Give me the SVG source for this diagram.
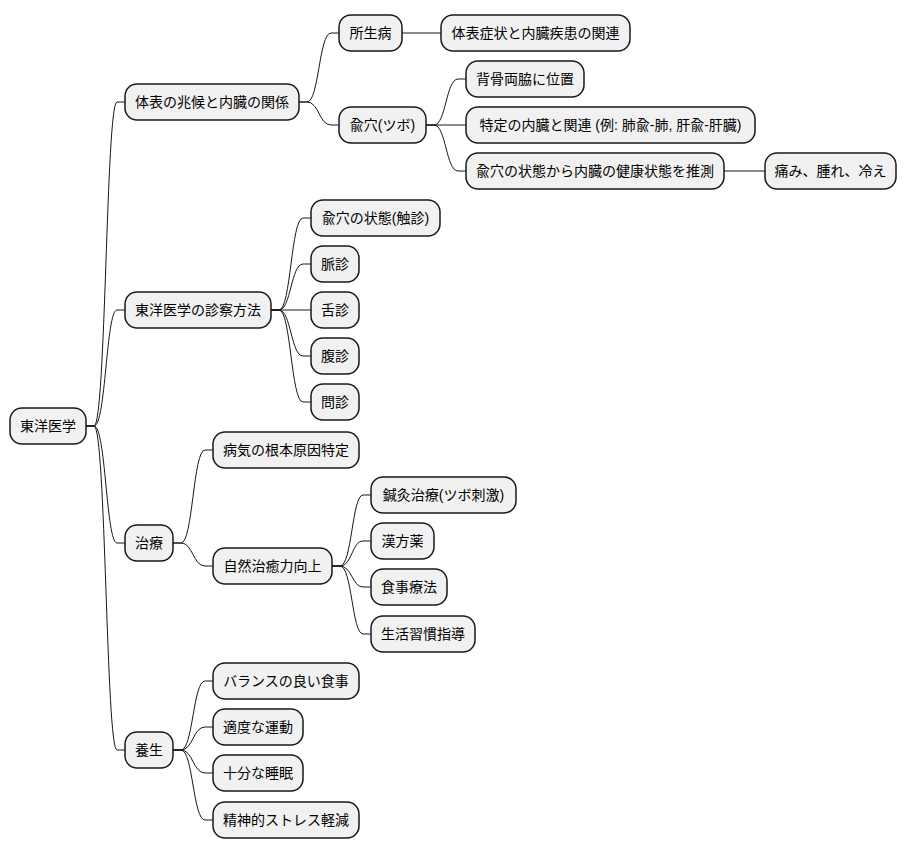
<svg xmlns="http://www.w3.org/2000/svg" width="907" height="854" viewBox="0 0 907 854">
<style>
.n rect{fill:#F1F1F1;stroke:#181818;stroke-width:1.5}
.n text{font-family:"Liberation Sans","Noto Sans CJK JP",sans-serif;font-size:14px;fill:#000;text-anchor:middle}
.c path{fill:none;stroke:#181818;stroke-width:1}
</style>
<rect width="907" height="854" fill="#FFFFFF"/>
<g class="c" id="connectors">
<path d="M86,426 H94 C106,426 106,102 117,102 H125"/>
<path d="M86,426 H94 C106,426 106,310 117,310 H125"/>
<path d="M86,426 H94 C106,426 106,543 117,543 H125"/>
<path d="M86,426 H94 C106,426 106,750 117,750 H125"/>
<path d="M299,102 H307 C319,102 319,33 331,33 H339"/>
<path d="M299,102 H307 C319,102 319,125 331,125 H339"/>
<path d="M402,33 H441"/>
<path d="M426,125 H434 C446,125 446,79 458,79 H466"/>
<path d="M426,125 H466"/>
<path d="M426,125 H434 C446,125 446,171 458,171 H466"/>
<path d="M724,171 H765"/>
<path d="M271,310 H279 C291,310 291,218 303,218 H311"/>
<path d="M271,310 H279 C291,310 291,264 303,264 H311"/>
<path d="M271,310 H311"/>
<path d="M271,310 H279 C291,310 291,356 303,356 H311"/>
<path d="M271,310 H279 C291,310 291,402 303,402 H311"/>
<path d="M173,543 H181 C193,543 193,450 205,450 H213"/>
<path d="M173,543 H181 C193,543 193,566 205,566 H213"/>
<path d="M332,566 H340 C352,566 352,495 363,495 H371"/>
<path d="M332,566 H340 C352,566 352,541 363,541 H371"/>
<path d="M332,566 H340 C352,566 352,587 363,587 H371"/>
<path d="M332,566 H340 C352,566 352,634 363,634 H371"/>
<path d="M173,750 H181 C193,750 193,681 205,681 H213"/>
<path d="M173,750 H181 C193,750 193,727 205,727 H213"/>
<path d="M173,750 H181 C193,750 193,773 205,773 H213"/>
<path d="M173,750 H181 C193,750 193,820 205,820 H213"/>
</g>
<g class="n" id="root"><rect x="10" y="408" width="76" height="36" rx="12"/><text x="48" y="431">東洋医学</text></g>
<g class="n" id="n1"><rect x="125" y="84" width="174" height="36" rx="12"/><text x="212" y="107">体表の兆候と内臓の関係</text></g>
<g class="n" id="n1a"><rect x="339" y="15" width="63" height="36" rx="12"/><text x="370.5" y="38">所生病</text></g>
<g class="n" id="n1a1"><rect x="441" y="15" width="189" height="36" rx="12"/><text x="535.5" y="38">体表症状と内臓疾患の関連</text></g>
<g class="n" id="n1b"><rect x="339" y="107" width="87" height="36" rx="12"/><text x="382.5" y="130">兪穴(ツボ)</text></g>
<g class="n" id="n1b1"><rect x="466" y="61" width="118" height="36" rx="12"/><text x="525" y="84">背骨両脇に位置</text></g>
<g class="n" id="n1b2"><rect x="466" y="107" width="289" height="36" rx="12"/><text x="610.5" y="130">特定の内臓と関連 (例: 肺兪-肺, 肝兪-肝臓)</text></g>
<g class="n" id="n1b3"><rect x="466" y="153" width="258" height="36" rx="12"/><text x="595" y="176">兪穴の状態から内臓の健康状態を推測</text></g>
<g class="n" id="n1b3a"><rect x="765" y="153" width="131" height="36" rx="12"/><text x="830.5" y="176">痛み、腫れ、冷え</text></g>
<g class="n" id="n2"><rect x="125" y="292" width="146" height="36" rx="12"/><text x="198" y="315">東洋医学の診察方法</text></g>
<g class="n" id="n2a"><rect x="311" y="200" width="129" height="36" rx="12"/><text x="375.5" y="223">兪穴の状態(触診)</text></g>
<g class="n" id="n2b"><rect x="311" y="246" width="48" height="36" rx="12"/><text x="335" y="269">脈診</text></g>
<g class="n" id="n2c"><rect x="311" y="292" width="48" height="36" rx="12"/><text x="335" y="315">舌診</text></g>
<g class="n" id="n2d"><rect x="311" y="338" width="48" height="36" rx="12"/><text x="335" y="361">腹診</text></g>
<g class="n" id="n2e"><rect x="311" y="384" width="48" height="36" rx="12"/><text x="335" y="407">問診</text></g>
<g class="n" id="n3"><rect x="125" y="525" width="48" height="36" rx="12"/><text x="149" y="548">治療</text></g>
<g class="n" id="n3a"><rect x="213" y="432" width="146" height="36" rx="12"/><text x="286" y="455">病気の根本原因特定</text></g>
<g class="n" id="n3b"><rect x="213" y="548" width="119" height="36" rx="12"/><text x="272.5" y="571">自然治癒力向上</text></g>
<g class="n" id="n3b1"><rect x="371" y="477" width="145" height="36" rx="12"/><text x="443.5" y="500">鍼灸治療(ツボ刺激)</text></g>
<g class="n" id="n3b2"><rect x="371" y="523" width="63" height="36" rx="12"/><text x="402.5" y="546">漢方薬</text></g>
<g class="n" id="n3b3"><rect x="371" y="569" width="76" height="36" rx="12"/><text x="409" y="592">食事療法</text></g>
<g class="n" id="n3b4"><rect x="371" y="616" width="104" height="36" rx="12"/><text x="423" y="639">生活習慣指導</text></g>
<g class="n" id="n4"><rect x="125" y="732" width="48" height="36" rx="12"/><text x="149" y="755">養生</text></g>
<g class="n" id="n4a"><rect x="213" y="663" width="146" height="36" rx="12"/><text x="286" y="686">バランスの良い食事</text></g>
<g class="n" id="n4b"><rect x="213" y="709" width="90" height="36" rx="12"/><text x="258" y="732">適度な運動</text></g>
<g class="n" id="n4c"><rect x="213" y="755" width="90" height="36" rx="12"/><text x="258" y="778">十分な睡眠</text></g>
<g class="n" id="n4d"><rect x="213" y="802" width="146" height="36" rx="12"/><text x="286" y="825">精神的ストレス軽減</text></g>
</svg>
